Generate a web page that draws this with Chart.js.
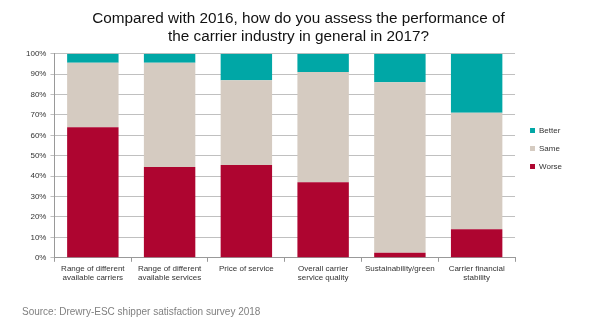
<!DOCTYPE html>
<html>
<head>
<meta charset="utf-8">
<script src="https://cdn.jsdelivr.net/npm/chart.js@4"></script>
<style>
  html, body { margin: 0; padding: 0; background: #fff; }
  #wrap { width: 589px; height: 331px; }
</style>
</head>
<body>
<div id="wrap"><canvas id="perfChart" width="589" height="331"></canvas></div>
<script>
const categories = [
    ['Range of different', 'available carriers'],
    ['Range of different', 'available services'],
    ['Price of service'],
    ['Overall carrier', 'service quality'],
    ['Sustainability/green'],
    ['Carrier financial', 'stability']
];
const worse  = [64, 44.5, 45.5, 37, 2.5, 14];
const same   = [31.5, 51, 41.5, 54, 83.5, 57];
const better = [4.5, 4.5, 13, 9, 14, 29];

// nudge the legend right/up and the title slightly right of where the layout puts them
const boxNudge = {
    id: 'boxNudge',
    afterLayout(chart) {
        const lg = chart.legend;
        lg.left += 5; lg.right += 5;
        lg.top -= 17; lg.bottom -= 17;
        const tb = chart.titleBlock;
        tb.left += 4; tb.right += 4;
    }
};

const ctx = document.getElementById('perfChart').getContext('2d');
const chart = new Chart(ctx, {
    type: 'bar',
    data: {
        labels: categories,
        datasets: [
            { label: 'Worse',  data: worse,  backgroundColor: '#AE0530' },
            { label: 'Same',   data: same,   backgroundColor: '#D5CBC1' },
            { label: 'Better', data: better, backgroundColor: '#00A7A6' }
        ]
    },
    plugins: [boxNudge],
    options: {
        responsive: false,
        animation: false,
        layout: { padding: { left: 22, right: 22, top: 0, bottom: 0 } },
        datasets: { bar: { categoryPercentage: 1, barPercentage: 0.67 } },
        plugins: {
            title: {
                display: true,
                text: ['Compared with 2016, how do you assess the performance of', 'the carrier industry in general in 2017?'],
                color: '#111',
                font: { family: 'Liberation Sans, Arial', size: 15.3, weight: 'normal', lineHeight: 1.23 },
                padding: { top: 9, bottom: 7 }
            },
            subtitle: {
                display: true,
                position: 'bottom',
                align: 'start',
                text: 'Source: Drewry-ESC shipper satisfaction survey 2018',
                color: '#808080',
                font: { family: 'Liberation Sans, Arial', size: 10 },
                padding: { top: 21, bottom: 13 }
            },
            legend: {
                position: 'right',
                reverse: true,
                labels: {
                    boxWidth: 5,
                    boxHeight: 5,
                    padding: 10,
                    color: '#333',
                    font: { family: 'Liberation Sans, Arial', size: 8 }
                }
            },
            tooltip: { enabled: false }
        },
        scales: {
            x: {
                stacked: true,
                grid: { offset: true, drawOnChartArea: false, tickLength: 4, color: '#999' },
                border: { color: '#999' },
                ticks: {
                    color: '#333',
                    font: { family: 'Liberation Sans, Arial', size: 8 },
                    maxRotation: 0,
                    autoSkip: false,
                    padding: 2
                }
            },
            y: {
                stacked: true,
                min: 0,
                max: 100,
                grid: { color: '#c0c0c0', tickLength: 4 },
                border: { color: '#999' },
                ticks: {
                    stepSize: 10,
                    color: '#333',
                    font: { family: 'Liberation Sans, Arial', size: 8 },
                    padding: 4,
                    callback: v => v + '%'
                }
            }
        }
    }
});
</script>
</body>
</html>
